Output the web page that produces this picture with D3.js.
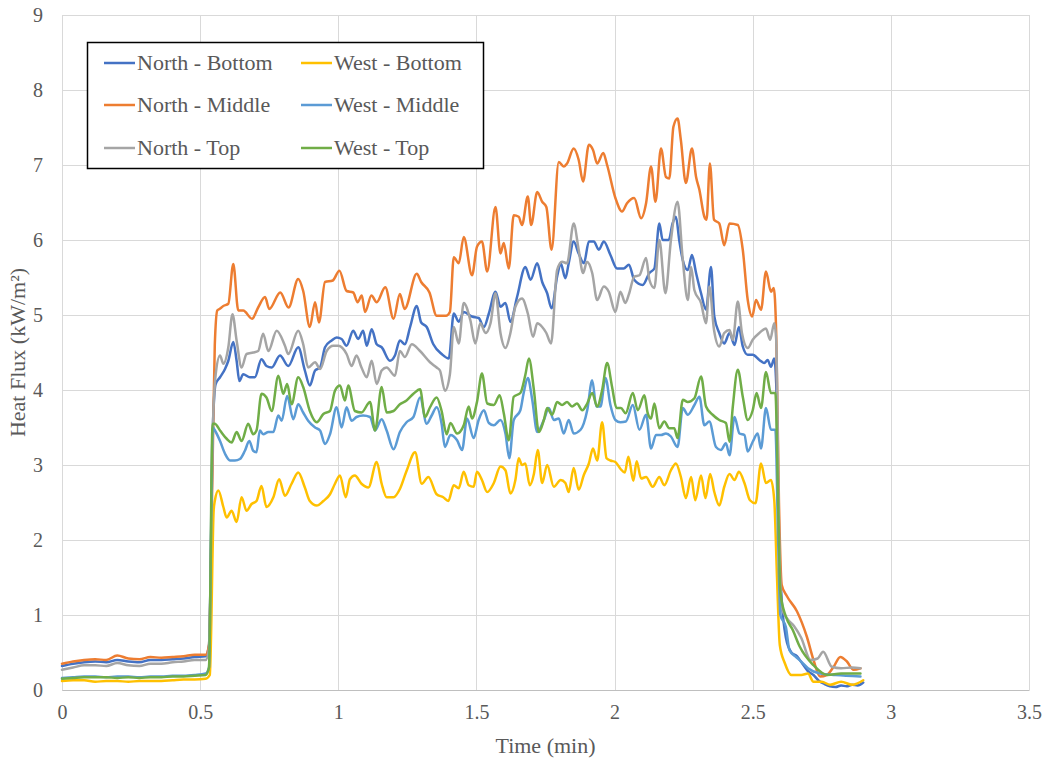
<!DOCTYPE html>
<html><head><meta charset="utf-8">
<script src="https://cdn.jsdelivr.net/npm/d3@7"></script>
<style>
html,body{margin:0;padding:0;background:#fff;}
svg{display:block;font-family:"Liberation Serif","Times New Roman",serif;}
</style>
</head><body>
<svg id="chart" width="1047" height="761"></svg>
<script>
// ---- data: [time (min), heat flux (kW/m²)] ----
const seriesNames = ["North - Bottom","North - Middle","North - Top","West - Bottom","West - Middle","West - Top"];
const seriesColors = ["#4472C4","#ED7D31","#A5A5A5","#FFC000","#5B9BD5","#70AD47"];
const xTicks = [0,0.5,1,1.5,2,2.5,3,3.5];
const yTicks = [0,1,2,3,4,5,6,7,8,9];

const northBottom = [[0,0.32],[0.04,0.35],[0.08,0.37],[0.12,0.38],[0.16,0.37],[0.2,0.40],[0.24,0.38],[0.28,0.37],[0.32,0.40],[0.36,0.40],[0.4,0.41],[0.44,0.42],[0.48,0.44],[0.52,0.45],
[0.532,0.6],[0.547,3.6],[0.556,4.08],
[0.572,4.17],[0.59,4.28],[0.602,4.39],[0.62,4.64],[0.632,4.39],[0.642,4.12],[0.656,4.21],[0.68,4.17],[0.698,4.17],[0.722,4.41],[0.74,4.32],[0.759,4.3],[0.789,4.46],[0.819,4.32],[0.855,4.57],[0.879,4.26],[0.897,4.06],[0.916,4.26],[0.934,4.3],[0.952,4.57],[0.976,4.66],[0.994,4.7],[1.012,4.68],[1.03,4.59],[1.054,4.79],[1.072,4.68],[1.09,4.79],[1.103,4.59],[1.121,4.81],[1.139,4.61],[1.157,4.57],[1.187,4.39],[1.205,4.46],[1.223,4.66],[1.241,4.61],[1.26,4.84],[1.284,5.12],[1.30,4.9],[1.32,4.84],[1.344,4.61],[1.374,4.48],[1.40,4.42],
[1.418,5.02],[1.436,4.91],[1.454,5.04],[1.484,4.98],[1.508,4.96],[1.527,4.84],[1.545,5.02],[1.569,5.31],[1.587,5.11],[1.605,5.16],[1.623,4.91],[1.647,5.24],[1.677,5.64],[1.696,5.47],[1.72,5.69],[1.738,5.44],[1.756,5.29],[1.772,5.09],[1.793,5.53],[1.805,5.69],[1.822,5.49],[1.834,5.69],[1.852,5.98],[1.87,5.82],[1.889,5.69],[1.907,5.98],[1.925,5.98],[1.943,5.87],[1.961,5.98],[1.985,5.8],[2.009,5.62],
[2.033,5.62],[2.052,5.67],[2.071,5.47],[2.102,5.4],[2.126,5.56],[2.144,5.62],[2.162,6.22],[2.174,6.0],[2.196,6.0],[2.21,6.22],[2.222,6.31],[2.234,6.0],[2.247,5.73],[2.265,5.6],[2.28,5.8],[2.295,5.56],[2.313,5.29],[2.331,5.07],[2.349,5.64],[2.361,4.98],[2.379,4.76],[2.397,4.62],[2.416,4.76],[2.434,4.6],[2.45,4.84],[2.464,4.58],[2.482,4.47],[2.5,4.47],[2.524,4.4],[2.542,4.36],[2.554,4.4],[2.566,4.31],[2.578,4.42],[2.585,4.09],
[2.595,2.0],[2.605,1.2],[2.62,0.7],[2.64,0.5],[2.66,0.45],[2.68,0.35],[2.7,0.25],[2.72,0.2],[2.74,0.12],[2.76,0.08],[2.78,0.05],[2.8,0.04],[2.82,0.06],[2.84,0.05],[2.86,0.07],[2.88,0.06],[2.9,0.1]];

const northMiddle = [[0,0.35],[0.04,0.38],[0.08,0.40],[0.12,0.41],[0.16,0.40],[0.2,0.46],[0.24,0.42],[0.28,0.41],[0.32,0.44],[0.36,0.43],[0.4,0.44],[0.44,0.45],[0.48,0.47],[0.52,0.47],
[0.532,0.6],[0.545,3.0],[0.553,4.6],[0.562,5.06],
[0.57,5.08],[0.584,5.12],[0.602,5.15],[0.62,5.68],[0.638,5.06],[0.656,5.06],[0.688,4.95],[0.71,5.1],[0.735,5.24],[0.75,5.08],[0.79,5.3],[0.82,5.1],[0.855,5.48],[0.873,5.32],[0.897,4.84],[0.916,5.17],[0.93,4.9],[0.952,5.44],[0.98,5.46],[1.004,5.59],[1.03,5.32],[1.054,5.3],[1.07,5.17],[1.085,5.26],[1.097,5.04],[1.12,5.26],[1.139,5.17],[1.17,5.37],[1.2,4.95],[1.223,5.28],[1.24,5.08],[1.284,5.55],[1.30,5.44],[1.33,5.3],[1.356,4.99],[1.39,4.99],[1.404,5.04],
[1.418,5.77],[1.436,5.69],[1.454,6.04],[1.484,5.53],[1.502,5.91],[1.52,5.98],[1.539,5.58],[1.569,6.44],[1.587,5.82],[1.599,5.96],[1.617,5.62],[1.635,6.33],[1.653,6.31],[1.665,6.2],[1.686,6.58],[1.698,6.2],[1.72,6.64],[1.738,6.51],[1.753,6.44],[1.772,5.87],[1.798,7.04],[1.816,6.98],[1.828,7.02],[1.852,7.22],[1.87,7.07],[1.886,6.78],[1.907,7.27],[1.922,7.2],[1.937,7.02],[1.959,7.16],[1.973,7.0],[2.003,6.56],
[2.027,6.38],[2.045,6.49],[2.071,6.56],[2.096,6.29],[2.114,6.49],[2.132,6.98],[2.148,6.51],[2.168,7.22],[2.186,6.84],[2.198,6.82],[2.213,7.51],[2.228,7.62],[2.24,7.33],[2.258,6.76],[2.28,7.22],[2.295,6.84],[2.307,6.67],[2.325,6.31],[2.333,6.27],[2.345,7.02],[2.36,6.27],[2.379,6.22],[2.397,5.93],[2.416,6.22],[2.446,6.2],[2.464,5.87],[2.482,5.2],[2.498,4.98],[2.512,5.2],[2.53,5.07],[2.548,5.58],[2.566,5.31],[2.576,5.36],[2.585,4.76],
[2.595,2.5],[2.605,1.4],[2.624,1.25],[2.66,1.05],[2.696,0.71],[2.72,0.4],[2.744,0.18],[2.768,0.2],[2.793,0.31],[2.817,0.44],[2.841,0.38],[2.865,0.27],[2.89,0.29]];

const northTop = [[0,0.27],[0.04,0.30],[0.08,0.33],[0.12,0.33],[0.16,0.32],[0.2,0.36],[0.24,0.33],[0.28,0.32],[0.32,0.35],[0.36,0.35],[0.4,0.37],[0.44,0.38],[0.48,0.40],[0.52,0.40],
[0.532,0.55],[0.546,3.5],[0.556,4.2],
[0.572,4.46],[0.584,4.35],[0.602,4.57],[0.617,5.01],[0.632,4.66],[0.65,4.3],[0.668,4.48],[0.692,4.5],[0.71,4.52],[0.728,4.75],[0.747,4.52],[0.777,4.79],[0.807,4.59],[0.819,4.48],[0.855,4.79],[0.873,4.61],[0.891,4.3],[0.916,4.37],[0.934,4.28],[0.958,4.52],[0.982,4.59],[1.0,4.59],[1.03,4.48],[1.048,4.32],[1.066,4.46],[1.084,4.3],[1.103,4.17],[1.121,4.39],[1.139,4.08],[1.157,4.26],[1.175,4.3],[1.205,4.19],[1.223,4.52],[1.241,4.44],[1.266,4.61],[1.296,4.52],[1.332,4.37],[1.356,4.3],[1.368,4.26],[1.386,3.99],[1.404,4.21],
[1.418,4.84],[1.436,4.62],[1.454,5.16],[1.478,4.93],[1.496,4.62],[1.514,4.89],[1.533,4.76],[1.551,4.89],[1.569,5.29],[1.587,4.76],[1.605,4.56],[1.623,4.76],[1.641,5.11],[1.665,5.22],[1.686,5.02],[1.705,4.71],[1.72,4.89],[1.738,4.84],[1.753,4.76],[1.77,4.62],[1.792,5.6],[1.81,5.71],[1.828,5.69],[1.852,6.22],[1.87,5.87],[1.886,5.56],[1.9,5.71],[1.919,5.56],[1.937,5.2],[1.961,5.38],[1.979,5.31],[2.003,5.04],
[2.021,5.31],[2.039,5.16],[2.053,5.29],[2.071,5.51],[2.09,5.53],[2.114,5.76],[2.126,5.47],[2.144,5.36],[2.162,6.0],[2.184,5.29],[2.204,6.0],[2.228,6.51],[2.247,5.73],[2.265,5.2],[2.277,5.64],[2.289,5.33],[2.313,5.16],[2.331,4.89],[2.343,5.38],[2.36,4.8],[2.379,4.58],[2.397,4.76],[2.416,4.8],[2.428,4.67],[2.446,5.18],[2.461,4.76],[2.482,4.56],[2.5,4.67],[2.524,4.76],[2.548,4.82],[2.563,4.67],[2.578,4.89],[2.585,4.67],
[2.595,2.2],[2.605,1.1],[2.625,0.95],[2.65,0.85],[2.675,0.7],[2.71,0.4],[2.735,0.42],[2.755,0.51],[2.786,0.31],[2.82,0.29],[2.86,0.3],[2.89,0.29]];

const westBottom = [[0,0.12],[0.04,0.13],[0.08,0.13],[0.12,0.11],[0.16,0.12],[0.2,0.12],[0.24,0.11],[0.28,0.12],[0.32,0.12],[0.36,0.12],[0.4,0.13],[0.44,0.14],[0.48,0.14],[0.52,0.15],
[0.535,0.2],[0.549,2.4],
[0.553,2.52],[0.566,2.66],[0.584,2.44],[0.596,2.3],[0.614,2.39],[0.632,2.24],[0.65,2.57],[0.668,2.39],[0.686,2.48],[0.704,2.52],[0.722,2.72],[0.74,2.44],[0.765,2.57],[0.786,2.81],[0.807,2.59],[0.831,2.75],[0.855,2.9],[0.879,2.7],[0.897,2.52],[0.922,2.46],[0.946,2.52],[0.97,2.61],[0.988,2.75],[1.006,2.86],[1.027,2.57],[1.042,2.81],[1.06,2.86],[1.084,2.75],[1.109,2.7],[1.139,3.04],[1.157,2.75],[1.175,2.57],[1.2,2.57],[1.223,2.68],[1.247,2.92],[1.278,3.17],[1.302,2.75],[1.326,2.84],[1.356,2.61],[1.38,2.57],[1.398,2.52],
[1.418,2.73],[1.436,2.69],[1.454,2.91],[1.472,2.73],[1.49,2.71],[1.502,2.91],[1.52,2.8],[1.539,2.64],[1.563,2.76],[1.587,2.98],[1.605,2.93],[1.623,2.62],[1.641,2.8],[1.653,3.09],[1.665,3.0],[1.677,3.02],[1.693,2.73],[1.708,2.88],[1.722,3.2],[1.738,2.76],[1.756,3.0],[1.78,2.71],[1.805,2.8],[1.822,2.76],[1.834,2.64],[1.852,2.96],[1.87,2.67],[1.889,2.87],[1.907,3.02],[1.922,3.22],[1.937,3.06],[1.955,3.57],[1.971,3.09],[1.985,3.06],[2.003,3.04],
[2.021,2.95],[2.037,2.9],[2.05,3.11],[2.068,2.79],[2.08,3.05],[2.096,2.82],[2.114,2.84],[2.138,2.71],[2.162,2.84],[2.18,2.73],[2.204,2.93],[2.222,3.02],[2.24,2.84],[2.258,2.56],[2.277,2.84],[2.292,2.53],[2.313,2.86],[2.329,2.56],[2.346,2.88],[2.361,2.64],[2.379,2.46],[2.397,2.71],[2.416,2.88],[2.434,2.8],[2.45,2.91],[2.47,2.76],[2.49,2.53],[2.51,2.49],[2.53,3.02],[2.548,2.76],[2.566,2.8],[2.578,2.53],
[2.588,1.5],[2.598,0.6],[2.616,0.36],[2.64,0.2],[2.676,0.2],[2.7,0.22],[2.72,0.11],[2.75,0.11],[2.78,0.07],[2.82,0.11],[2.86,0.07],[2.9,0.13]];

const westMiddle = [[0,0.16],[0.04,0.17],[0.08,0.18],[0.12,0.18],[0.16,0.17],[0.2,0.18],[0.24,0.18],[0.28,0.17],[0.32,0.18],[0.36,0.18],[0.4,0.19],[0.44,0.19],[0.48,0.2],[0.52,0.22],
[0.532,0.3],[0.546,3.5],
[0.555,3.45],[0.572,3.32],[0.59,3.15],[0.608,3.06],[0.626,3.06],[0.644,3.08],[0.662,3.19],[0.678,3.32],[0.692,3.19],[0.704,3.17],[0.716,3.46],[0.728,3.41],[0.747,3.44],[0.765,3.44],[0.783,3.66],[0.795,3.59],[0.815,3.92],[0.837,3.61],[0.855,3.81],[0.873,3.7],[0.891,3.59],[0.916,3.5],[0.934,3.46],[0.952,3.28],[0.97,3.41],[0.994,3.77],[1.012,3.5],[1.03,3.77],[1.048,3.59],[1.066,3.64],[1.09,3.66],[1.115,3.64],[1.133,3.46],[1.157,3.61],[1.175,3.46],[1.2,3.21],[1.223,3.44],[1.247,3.57],[1.272,3.64],[1.296,3.9],[1.32,3.55],[1.338,3.66],[1.356,3.77],[1.374,3.55],[1.386,3.24],[1.406,3.4],
[1.43,3.33],[1.448,3.2],[1.466,3.62],[1.49,3.36],[1.508,3.6],[1.527,3.73],[1.545,3.56],[1.563,3.53],[1.587,3.6],[1.605,3.42],[1.619,3.09],[1.635,3.6],[1.659,3.73],[1.671,3.96],[1.686,4.16],[1.702,3.87],[1.72,3.44],[1.744,3.6],[1.762,3.76],[1.78,3.6],[1.798,3.62],[1.816,3.42],[1.834,3.6],[1.852,3.42],[1.877,3.47],[1.901,3.73],[1.919,4.13],[1.934,3.78],[1.949,3.78],[1.967,4.16],[1.985,3.8],[2.003,3.6],
[2.021,3.57],[2.041,3.58],[2.066,3.8],[2.09,3.47],[2.114,3.67],[2.132,3.22],[2.15,3.4],[2.168,3.4],[2.186,3.42],[2.204,3.38],[2.228,3.24],[2.247,3.76],[2.265,3.67],[2.289,3.8],[2.307,3.91],[2.325,3.53],[2.343,3.58],[2.367,3.24],[2.385,3.2],[2.403,3.29],[2.416,3.13],[2.434,3.64],[2.452,3.42],[2.47,3.4],[2.482,3.18],[2.5,3.31],[2.518,3.42],[2.53,3.22],[2.548,3.76],[2.566,3.47],[2.582,3.47],
[2.592,2.0],[2.6,1.0],[2.62,0.84],[2.633,0.53],[2.657,0.44],[2.675,0.38],[2.7,0.29],[2.744,0.22],[2.8,0.2],[2.89,0.18]];

const westTop = [[0,0.15],[0.04,0.16],[0.08,0.17],[0.12,0.17],[0.16,0.17],[0.2,0.16],[0.24,0.17],[0.28,0.16],[0.32,0.17],[0.36,0.17],[0.4,0.18],[0.44,0.18],[0.48,0.19],[0.52,0.2],
[0.532,0.3],[0.545,3.55],
[0.553,3.55],[0.572,3.46],[0.596,3.35],[0.614,3.3],[0.632,3.44],[0.65,3.32],[0.674,3.55],[0.692,3.41],[0.704,3.46],[0.722,3.95],[0.74,3.9],[0.759,3.72],[0.783,4.19],[0.801,3.95],[0.815,4.08],[0.831,3.81],[0.855,4.17],[0.873,4.04],[0.897,3.72],[0.922,3.57],[0.946,3.68],[0.97,3.72],[0.988,3.99],[1.006,4.06],[1.024,3.86],[1.036,4.06],[1.06,3.72],[1.084,3.7],[1.115,3.84],[1.133,3.46],[1.157,4.04],[1.175,3.7],[1.2,3.72],[1.223,3.81],[1.247,3.86],[1.272,3.95],[1.296,4.01],[1.314,3.64],[1.332,3.77],[1.356,3.9],[1.374,3.72],[1.392,3.41],[1.406,3.56],
[1.43,3.42],[1.454,3.53],[1.472,3.78],[1.484,3.62],[1.502,3.84],[1.52,4.22],[1.539,3.82],[1.563,3.8],[1.584,3.93],[1.599,3.69],[1.617,3.33],[1.635,3.91],[1.659,3.96],[1.677,4.2],[1.69,4.42],[1.708,4.0],[1.726,3.44],[1.744,3.6],[1.756,3.76],[1.774,3.67],[1.792,3.84],[1.81,3.8],[1.828,3.84],[1.846,3.78],[1.864,3.82],[1.883,3.73],[1.901,3.82],[1.919,3.96],[1.937,3.78],[1.955,4.0],[1.973,4.36],[1.991,4.04],[2.007,3.76],
[2.023,3.76],[2.04,3.69],[2.066,3.96],[2.084,3.73],[2.108,3.93],[2.12,3.69],[2.132,3.62],[2.144,3.82],[2.162,3.49],[2.18,3.58],[2.198,3.49],[2.216,3.49],[2.228,3.36],[2.247,3.87],[2.265,3.84],[2.289,3.89],[2.313,4.18],[2.331,3.78],[2.355,3.67],[2.379,3.6],[2.403,3.56],[2.416,3.31],[2.428,3.78],[2.446,4.27],[2.464,3.91],[2.482,3.6],[2.5,3.73],[2.514,3.96],[2.53,3.76],[2.548,4.24],[2.566,3.96],[2.582,3.96],
[2.592,2.5],[2.6,1.3],[2.62,0.98],[2.645,0.8],[2.67,0.58],[2.72,0.33],[2.77,0.2],[2.82,0.22],[2.89,0.22]];

const seriesData = [northBottom, northMiddle, northTop, westBottom, westMiddle, westTop];

// ---- layout ----
const svg = d3.select("#chart");
const W = 1047, H = 761;
const plot = {left: 62, right: 1029, top: 15, bottom: 690};
const textColor = "#595959";
const tickFont = 20;
const titleFont = 22;
const legendFont = 22;

svg.append("rect").attr("width", W).attr("height", H).attr("fill", "#fff");

const x = d3.scaleLinear().domain([0, 3.5]).range([plot.left, plot.right]);
const y = d3.scaleLinear().domain([0, 9]).range([plot.bottom, plot.top]);

// gridlines
const grid = svg.append("g");
grid.selectAll("line.h").data(yTicks).join("line")
  .attr("x1", plot.left).attr("x2", plot.right)
  .attr("y1", d => Math.round(y(d)) + 0.5).attr("y2", d => Math.round(y(d)) + 0.5)
  .attr("stroke", "#d9d9d9").attr("stroke-width", 1);
grid.selectAll("line.v").data(xTicks).join("line")
  .attr("y1", plot.top).attr("y2", plot.bottom)
  .attr("x1", d => Math.round(x(d)) + 0.5).attr("x2", d => Math.round(x(d)) + 0.5)
  .attr("stroke", "#d9d9d9").attr("stroke-width", 1);

// axes (tick labels)
const xAxis = d3.axisBottom(x).tickValues(xTicks).tickSize(0).tickPadding(15).tickFormat(d3.format(""));
const gx = svg.append("g").attr("transform", `translate(0,${plot.bottom})`).call(xAxis);
gx.select(".domain").attr("stroke", "#bfbfbf");
gx.selectAll("text").attr("fill", textColor).attr("font-size", tickFont).attr("font-family", "Liberation Serif, serif");

const yAxis = d3.axisLeft(y).tickValues(yTicks).tickSize(0).tickPadding(19).tickFormat(d3.format(""));
const gy = svg.append("g").attr("transform", `translate(${plot.left},0)`).call(yAxis);
gy.select(".domain").remove();
gy.selectAll("text").attr("fill", textColor).attr("font-size", tickFont).attr("font-family", "Liberation Serif, serif");

// axis titles
svg.append("text").attr("x", (plot.left + plot.right) / 2).attr("y", 753)
  .attr("text-anchor", "middle").attr("fill", textColor).attr("font-size", titleFont)
  .text("Time (min)");
svg.append("text").attr("transform", `translate(25,${(plot.top + plot.bottom) / 2}) rotate(-90)`)
  .attr("text-anchor", "middle").attr("fill", textColor).attr("font-size", titleFont)
  .text("Heat Flux (kW/m²)");

// lines
const line = d3.line().x(d => x(d[0])).y(d => y(d[1])).curve(d3.curveMonotoneX);
svg.append("g").selectAll("path").data(seriesData).join("path")
  .attr("d", line).attr("fill", "none")
  .attr("stroke", (d, i) => seriesColors[i]).attr("stroke-width", 2.5)
  .attr("stroke-linejoin", "round").attr("stroke-linecap", "round");

// legend
const legend = svg.append("g");
legend.append("rect").attr("x", 87.5).attr("y", 42.5).attr("width", 396).attr("height", 126)
  .attr("fill", "#fff").attr("stroke", "#000").attr("stroke-width", 1.5);
const legCols = [104, 301];
const legRows = [63, 105, 148];
seriesNames.forEach((name, i) => {
  const col = i < 3 ? 0 : 1;
  const row = i % 3;
  const lx = legCols[col], ly = legRows[row];
  legend.append("line").attr("x1", lx).attr("x2", lx + 31).attr("y1", ly).attr("y2", ly)
    .attr("stroke", seriesColors[i]).attr("stroke-width", 2.5);
  legend.append("text").attr("x", lx + 33).attr("y", ly + 7)
    .attr("fill", textColor).attr("font-size", legendFont).text(name);
});
</script>
</body></html>
